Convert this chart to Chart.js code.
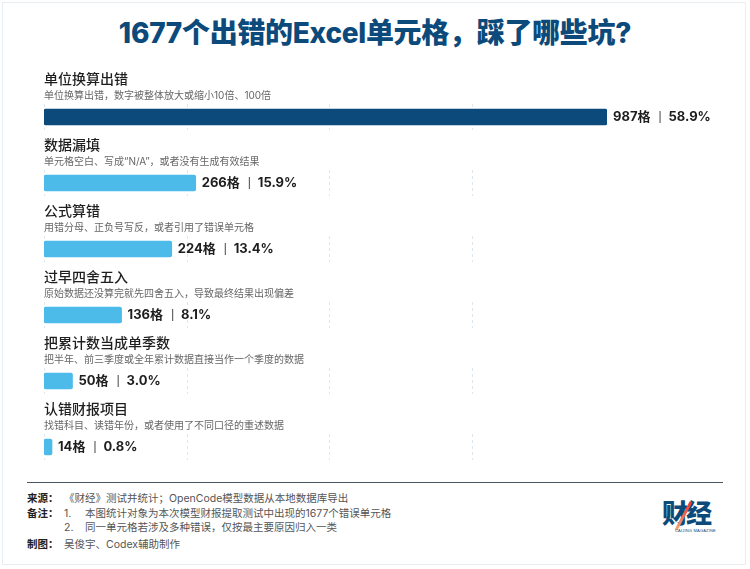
<!DOCTYPE html>
<html>
<head>
<meta charset="utf-8">
<script src="https://cdn.jsdelivr.net/npm/chart.js@4"></script>
<style>
  html, body { margin: 0; padding: 0; background: #fff; }
  body { width: 750px; height: 569px; position: relative; overflow: hidden;
         font-family: "Inter", "Noto Sans CJK SC", sans-serif; }
  .card { position: absolute; left: 2px; top: 2px; width: 744px; height: 563px;
          border: 1px solid #e8edf2; box-sizing: border-box; }
  h1 { position: absolute; left: 0; top: 13px; width: 750px; margin: 0; text-align: center;
       font-size: 28px; line-height: 40px; font-weight: 800; color: #0b4a7a; letter-spacing: -0.3px; }
  #wrap { position: absolute; left: 0; top: 60px; width: 750px; height: 425px; }
  .rule { position: absolute; left: 27px; top: 482px; width: 696px; height: 0;
          border-top: 1.5px solid #4a5560; }
  .foot { position: absolute; left: 27px; font-size: 10.5px; line-height: 14px; color: #555;
          font-family: "Inter", "Noto Sans CJK SC", sans-serif; white-space: nowrap; }
  .foot b { position: absolute; left: 0; color: #222; font-weight: 700; }
  .foot span { position: absolute; }
  .logo { position: absolute; left: 662px; top: 496px; width: 56px; height: 40px; }
  .logo .cj { position: absolute; left: 0; top: 0; font-family: "Noto Sans CJK SC"; font-weight: 900;
              font-size: 26px; line-height: 32px; color: #0b4a7a; letter-spacing: -2px; }
  .logo .slash { position: absolute; left: 20px; top: 4px; width: 3px; height: 32px;
                 background: linear-gradient(#e8362d, #f4a77a); transform: rotate(28deg); }
  .logo .en { position: absolute; left: 13px; top: 33px; font-size: 4px; line-height: 4px;
              color: #0b4a7a; letter-spacing: 0.2px; font-family: "Liberation Sans"; }
</style>
</head>
<body>
<div class="card"></div>
<h1>1677个出错的Excel单元格，踩了哪些坑?</h1>
<div id="wrap"><canvas id="errChart"></canvas></div>
<div class="rule"></div>

<div class="foot" style="top:492px;"><b>来源：</b><span style="left:37px;">《财经》测试并统计；OpenCode模型数据从本地数据库导出</span></div>
<div class="foot" style="top:507px;"><b>备注：</b><span style="left:37px;">1.</span><span style="left:58px;">本图统计对象为本次模型财报提取测试中出现的1677个错误单元格</span></div>
<div class="foot" style="top:521px;"><span style="left:37px;">2.</span><span style="left:58px;">同一单元格若涉及多种错误，仅按最主要原因归入一类</span></div>
<div class="foot" style="top:538px;"><b>制图：</b><span style="left:37px;">吴俊宇、Codex辅助制作</span></div>

<div class="logo">
  <div class="cj">财经</div>
  <div class="slash"></div>
  <div class="en">CAIJING MAGAZINE</div>
</div>

<script>
const categories = ['单位换算出错', '数据漏填', '公式算错', '过早四舍五入', '把累计数当成单季数', '认错财报项目'];
const descriptions = [
    '单位换算出错，数字被整体放大或缩小10倍、100倍',
    '单元格空白、写成“N/A”，或者没有生成有效结果',
    '用错分母、正负号写反，或者引用了错误单元格',
    '原始数据还没算完就先四舍五入，导致最终结果出现偏差',
    '把半年、前三季度或全年累计数据直接当作一个季度的数据',
    '找错科目、读错年份，或者使用了不同口径的重述数据'
];
const counts = [987, 266, 224, 136, 50, 14];
const shares = ['58.9%', '15.9%', '13.4%', '8.1%', '3.0%', '0.8%'];
const gridTicks = [0, 250, 500, 750];

const darkBlue = '#0b4a7a';
const lightBlue = '#4dbbea';

const rowText = {
    id: 'rowText',
    beforeDatasetsDraw(chart) {
        const ctx = chart.ctx;
        const xs = chart.scales.x;
        const ys = chart.scales.y;
        ctx.save();
        ctx.strokeStyle = '#dfe7ee';
        ctx.lineWidth = 1;
        ctx.setLineDash([3, 3]);
        categories.forEach((c, i) => {
            const yc = ys.getPixelForValue(i);
            gridTicks.forEach(t => {
                const x = Math.round(xs.getPixelForValue(t)) + 0.5;
                ctx.beginPath();
                ctx.moveTo(x, yc - 13);
                ctx.lineTo(x, yc + 13);
                ctx.stroke();
            });
        });
        ctx.restore();
    },
    afterDatasetsDraw(chart) {
        const ctx = chart.ctx;
        const xs = chart.scales.x;
        const ys = chart.scales.y;
        const left = chart.chartArea.left;
        ctx.save();
        ctx.textBaseline = 'middle';
        ctx.textAlign = 'left';
        categories.forEach((c, i) => {
            const yc = ys.getPixelForValue(i);
            ctx.fillStyle = '#1e1e1e';
            ctx.font = '500 14px "Noto Sans CJK SC"';
            ctx.fillText(c, left, yc - 38);
            ctx.fillStyle = '#666';
            ctx.font = '10px "Inter", "Noto Sans CJK SC"';
            ctx.fillText(descriptions[i], left, yc - 21);

            // value label after bar end
            let x = xs.getPixelForValue(counts[i]) + 6;
            ctx.fillStyle = '#1e1e1e';
            ctx.font = 'bold 13px "Inter", "Noto Sans CJK SC"';
            const a = counts[i] + '格';
            ctx.fillText(a, x, yc);
            x += ctx.measureText(a).width + 9;
            ctx.fillStyle = '#666';
            ctx.fillRect(x, yc - 6, 1.2, 12);
            x += 9;
            ctx.fillStyle = '#1e1e1e';
            ctx.fillText(shares[i], x, yc);
        });
        ctx.restore();
    }
};

new Chart(document.getElementById('errChart'), {
    type: 'bar',
    data: {
        labels: categories,
        datasets: [{
            data: counts,
            backgroundColor: counts.map((v, i) => i === 0 ? darkBlue : lightBlue),
            borderRadius: 2,
            borderSkipped: false,
            barThickness: 16
        }]
    },
    options: {
        indexAxis: 'y',
        responsive: true,
        maintainAspectRatio: false,
        animation: false,
        layout: { padding: { left: 44, right: 143, top: 24, bottom: 5 } },
        scales: {
            x: { display: false, min: 0, max: 987 },
            y: { display: false }
        },
        plugins: {
            legend: { display: false },
            tooltip: { enabled: false }
        }
    },
    plugins: [rowText]
});
</script>
</body>
</html>
